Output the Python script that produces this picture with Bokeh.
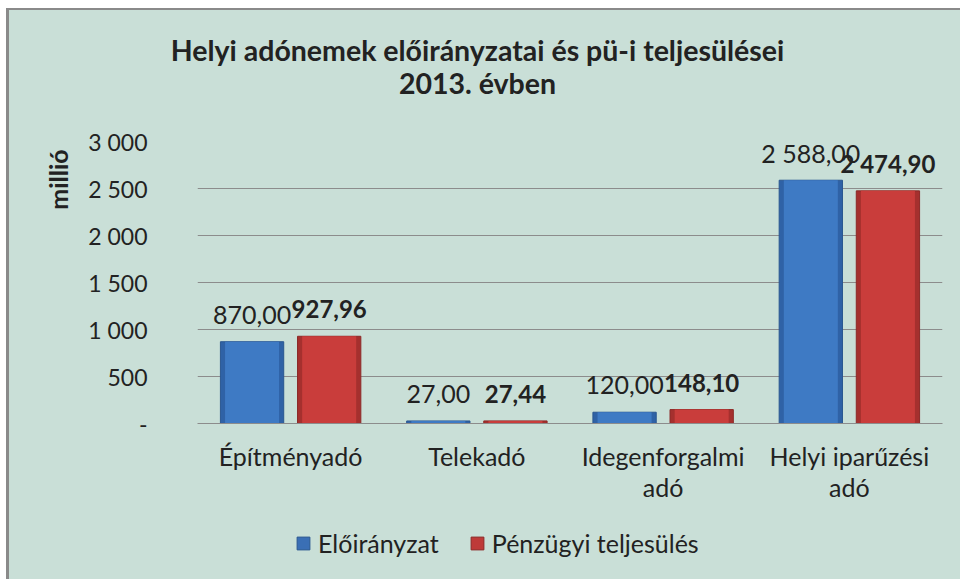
from math import pi
from bokeh.plotting import figure
from bokeh.layouts import column, row
from bokeh.models import (FactorRange, Range1d, ColumnDataSource, LabelSet, Label,
                          Legend, LegendItem, FixedTicker)
from bokeh.core.properties import value
from bokeh.transform import dodge
from bokeh.embed import file_html
from bokeh.resources import INLINE

# ---- data ----
categories = ["Építményadó", "Telekadó", "Idegenforgalmi\nadó", "Helyi iparűzési\nadó"]
eloiranyzat = [870.00, 27.00, 120.00, 2588.00]
teljesules = [927.96, 27.44, 148.10, 2474.90]
series_names = ["Előirányzat", "Pénzügyi teljesülés"]
y_ticks = [0, 500, 1000, 1500, 2000, 2500, 3000]
y_tick_labels = ["-", "500", "1 000", "1 500", "2 000", "2 500", "3 000"]
title_lines = ["Helyi adónemek előirányzatai és pü-i teljesülései", "2013. évben"]
y_label = "millió"


def fmt(v):
    return f"{v:,.2f}".replace(",", " ").replace(".", ",")


FONT = "Lato"
TXT = "#222222"
BG = "#c9dfd7"
GRID = "#8c8c8c"
BLUE, BLUE_SIDE, BLUE_EDGE = "#3e7ac4", "#2f62a6", "#2a5790"
RED, RED_SIDE, RED_EDGE = "#c93d3b", "#a5302e", "#8c2927"


def blank(width, height):
    f = figure(width=width, height=height, x_range=Range1d(0, 1), y_range=Range1d(0, 1),
               x_axis_type=None, y_axis_type=None, output_backend="svg",
               toolbar_location=None, min_border=0)
    f.background_fill_color = BG
    f.border_fill_color = BG
    f.outline_line_color = None
    return f


src = ColumnDataSource(dict(
    cat=categories,
    v1=eloiranyzat,
    v2=teljesules,
    t1=[fmt(v) for v in eloiranyzat],
    t2=[fmt(v) for v in teljesules],
))

# ---- title strip ----
pt = blank(951, 110)
pt.add_layout(Label(x=468, y=71, x_units="screen", y_units="screen", text=title_lines[0],
                    text_align="center", text_baseline="middle", text_font=FONT,
                    text_font_size="28.5px", text_font_style="bold", text_color=TXT))
pt.add_layout(Label(x=468, y=38, x_units="screen", y_units="screen", text=title_lines[1],
                    text_align="center", text_baseline="middle", text_font=FONT,
                    text_font_size="28.5px", text_font_style="bold", text_color=TXT))

# ---- y-label strip (its frame is aligned with the chart frame) ----
py = blank(70, 395)
py.add_layout(Label(x=48, y=244, x_units="screen", y_units="screen", text=y_label,
                    angle=pi / 2, text_align="center", text_baseline="middle",
                    text_font=FONT, text_font_size="25px", text_font_style="bold",
                    text_color=TXT))

# ---- main chart ----
p = figure(width=881, height=395, x_range=FactorRange(*categories),
           y_range=Range1d(0, 3000), output_backend="svg", toolbar_location=None,
           min_border_left=118, min_border_right=18, min_border_top=21,
           min_border_bottom=92)
p.background_fill_color = BG
p.border_fill_color = BG
p.outline_line_color = None

OFF = 0.207
W = 0.34
WI = 0.29
r1 = p.vbar(x=dodge("cat", -OFF, range=p.x_range), top="v1", width=W, source=src,
            fill_color=BLUE_SIDE, line_color=BLUE_EDGE, line_width=1)
p.vbar(x=dodge("cat", -OFF, range=p.x_range), top="v1", width=WI, source=src,
       fill_color=BLUE, line_color=None)
r2 = p.vbar(x=dodge("cat", OFF, range=p.x_range), top="v2", width=W, source=src,
            fill_color=RED_SIDE, line_color=RED_EDGE, line_width=1)
p.vbar(x=dodge("cat", OFF, range=p.x_range), top="v2", width=WI, source=src,
       fill_color=RED, line_color=None)

p.yaxis.ticker = FixedTicker(ticks=y_ticks)
p.yaxis.major_label_overrides = {t: l for t, l in zip(y_ticks, y_tick_labels)}
p.yaxis.axis_line_color = None
p.yaxis.major_tick_line_color = None
p.yaxis.minor_tick_line_color = None
p.yaxis.major_tick_in = 0
p.yaxis.major_tick_out = 0
p.yaxis.major_label_standoff = 50
p.yaxis.major_label_text_font = FONT
p.yaxis.major_label_text_font_size = "23px"
p.yaxis.major_label_text_color = TXT

p.xaxis.axis_line_color = GRID
p.xaxis.major_tick_line_color = None
p.xaxis.minor_tick_line_color = None
p.xaxis.major_tick_in = 0
p.xaxis.major_tick_out = 0
p.xaxis.major_label_standoff = 17
p.xaxis.major_label_text_font = FONT
p.xaxis.major_label_text_font_size = "25px"
p.xaxis.major_label_text_color = TXT
p.xaxis.major_label_text_line_height = 1.05

p.xgrid.grid_line_color = None
p.ygrid.grid_line_color = GRID
p.ygrid.grid_line_width = 1

p.add_layout(LabelSet(x=dodge("cat", -OFF, range=p.x_range), y="v1", text="t1", source=src,
                      y_offset=27, text_align="center", text_baseline="middle",
                      text_font=value(FONT), text_font_size="25px", text_color=TXT))
p.add_layout(LabelSet(x=dodge("cat", OFF, range=p.x_range), y="v2", text="t2", source=src,
                      y_offset=27, text_align="center", text_baseline="middle",
                      text_font=value(FONT), text_font_size="24px", text_font_style="bold",
                      text_color=TXT))

# ---- legend strip (proxy bars lie outside this strip's ranges, so only the keys show) ----
pl = blank(951, 64)
e1 = pl.vbar(x="v1", top="v1", width=0.3, source=src, fill_color="#3a6fb5",
             line_color=BLUE_EDGE)
e2 = pl.vbar(x="v2", top="v2", width=0.3, source=src, fill_color="#be3a38",
             line_color=RED_EDGE)
legend = Legend(items=[LegendItem(label=series_names[0], renderers=[e1]),
                       LegendItem(label=series_names[1], renderers=[e2])],
                orientation="horizontal", location=(286, 21),
                padding=0, margin=0, spacing=30, label_standoff=7,
                glyph_width=16, glyph_height=16, label_height=20,
                label_text_font=FONT, label_text_font_size="25px",
                label_text_color=TXT, border_line_color=None,
                background_fill_alpha=0)
pl.add_layout(legend, "center")

layout = column(pt, row(py, p), pl)
layout.styles = {"margin-left": "6px", "margin-top": "8px",
                 "border-left": "3px solid #8a8a8a", "border-top": "2px solid #8a8a8a",
                 "background-color": BG}

open("out.html", "w").write(file_html(layout, INLINE))
